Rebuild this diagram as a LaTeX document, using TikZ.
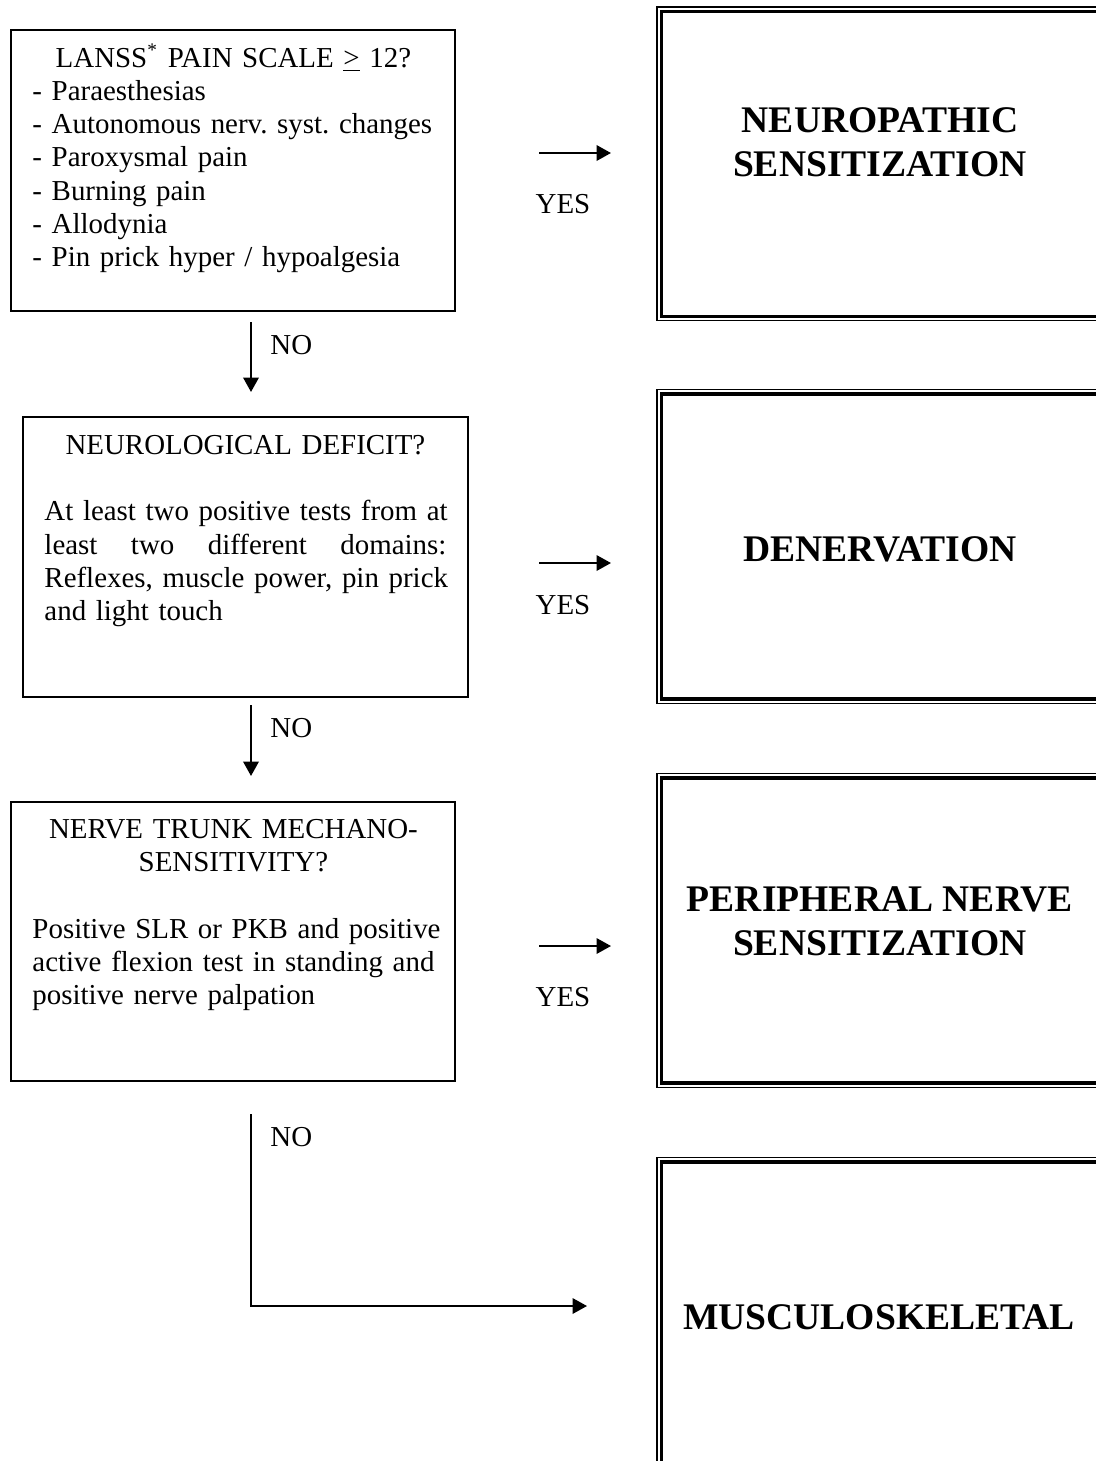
\documentclass[tikz,border=0pt]{standalone}
\usepackage{fontspec}
\setmainfont{Liberation Serif}
\usetikzlibrary{arrows.meta}
\newcommand{\jline}[1]{\hbox to \linewidth{#1}\par}
\begin{document}
\begin{tikzpicture}[x=0.415pt, y=-0.415pt,
  qbox/.style={draw, line width=0.6pt, inner sep=0pt},
  rbox/.style={draw, line width=0.6pt, inner sep=0pt, minimum width=184.7pt, minimum height=130.1pt},
  rinner/.style={line width=1.3pt},
  body/.style={inner sep=0pt, anchor=north west, text width=166.8pt,
    font=\fontsize{12}{13.8}\selectfont,
    execute at begin node={\parindent=0pt\hyphenpenalty=10000\frenchspacing\relax}},
  result/.style={inner sep=0pt, align=center, font=\fontsize{15.6}{18.3}\selectfont\bfseries},
  lbl/.style={inner sep=0pt, font=\fontsize{12}{13.8}\selectfont},
  arr/.style={line width=0.9pt, -{Triangle[length=6pt,width=6.4pt]}},
  conn/.style={line width=0.9pt}
]
\useasboundingbox (0,0) rectangle (1096,1461);

% question boxes
\node[qbox, minimum width=184.3pt, minimum height=116.6pt] (q1) at (233,170.5) {};
\node[qbox, minimum width=184.7pt, minimum height=116.2pt] (q2) at (245.5,557) {};
\node[qbox, minimum width=184.3pt, minimum height=115.8pt] (q3) at (233,941.5) {};

% question texts
\node[body] (t1) at (32,43.4) {{\centering\strut LANSS\textsuperscript{*} PAIN SCALE \underline{>} 12?\par}
\mbox{- Paraesthesias}\par
\mbox{- Autonomous nerv. syst. changes}\par
\mbox{- Paroxysmal pain}\par
\mbox{- Burning pain}\par
\mbox{- Allodynia}\par
\mbox{- Pin prick hyper / hypoalgesia}\par};

\node[body] (t2) at (44,430.7) {{\centering\strut NEUROLOGICAL DEFICIT?\par}
\mbox{}\par
\jline{At \hfill least \hfill two \hfill positive \hfill tests \hfill from \hfill at}
\jline{least \hfill two \hfill different \hfill domains:}
\jline{Reflexes, \hfill muscle \hfill power, \hfill pin \hfill prick}
\mbox{and light touch}\par};

\node[body] (t3) at (32,814.5) {{\centering\strut NERVE TRUNK MECHANO-\\SENSITIVITY?\par}
\mbox{}\par
\jline{Positive \hfill SLR \hfill or \hfill PKB \hfill and \hfill positive}
\jline{active \hfill flexion \hfill test \hfill in \hfill standing \hfill and}
\mbox{positive nerve palpation}\par};

% result boxes (double border)
\node[rbox] (r1) at (879.5,163.7) {};
\node[rbox] (r2) at (879.5,546.5) {};
\node[rbox] (r3) at (879.5,930.5) {};
\node[rbox] (r4) at (879.5,1314.5) {};
\foreach \r in {r1,r2,r3,r4}
  \draw[rinner] ([shift={(5,5)}]\r.north west) rectangle ([shift={(-5,-5)}]\r.south east);

\node[result] (n1) at (880,142) {NEUROPATHIC\\SENSITIZATION};
\node[result] (n2) at (880,549.5) {DENERVATION};
\node[result] (n3) at (880,921.5) {PERIPHERAL NERVE\\SENSITIZATION};
\node[result] (n4) at (879,1317.5) {MUSCULOSKELETAL};

% YES arrows
\coordinate (ys1) at (539,153);  \coordinate (ye1) at (611,153);
\coordinate (ys2) at (539,563);  \coordinate (ye2) at (611,563);
\coordinate (ys3) at (539,946);  \coordinate (ye3) at (611,946);
\draw[arr] (ys1) -- (ye1);
\draw[arr] (ys2) -- (ye2);
\draw[arr] (ys3) -- (ye3);
\node[lbl] (yes1) at (563,204.5) {YES};
\node[lbl] (yes2) at (563,605) {YES};
\node[lbl] (yes3) at (563,997) {YES};

% NO arrows
\coordinate (ns1) at (251,322);  \coordinate (ne1) at (251,392);
\coordinate (ns2) at (251,705);  \coordinate (ne2) at (251,776);
\coordinate (ns3) at (251,1114); \coordinate (ne3) at (587,1306);
\draw[arr] (ns1) -- (ne1);
\draw[arr] (ns2) -- (ne2);
\draw[arr] (ns3) |- (ne3);
\node[lbl, anchor=west] (no1) at (270,345) {NO};
\node[lbl, anchor=west] (no2) at (270,728) {NO};
\node[lbl, anchor=west] (no3) at (270,1137) {NO};
\end{tikzpicture}
\end{document}
